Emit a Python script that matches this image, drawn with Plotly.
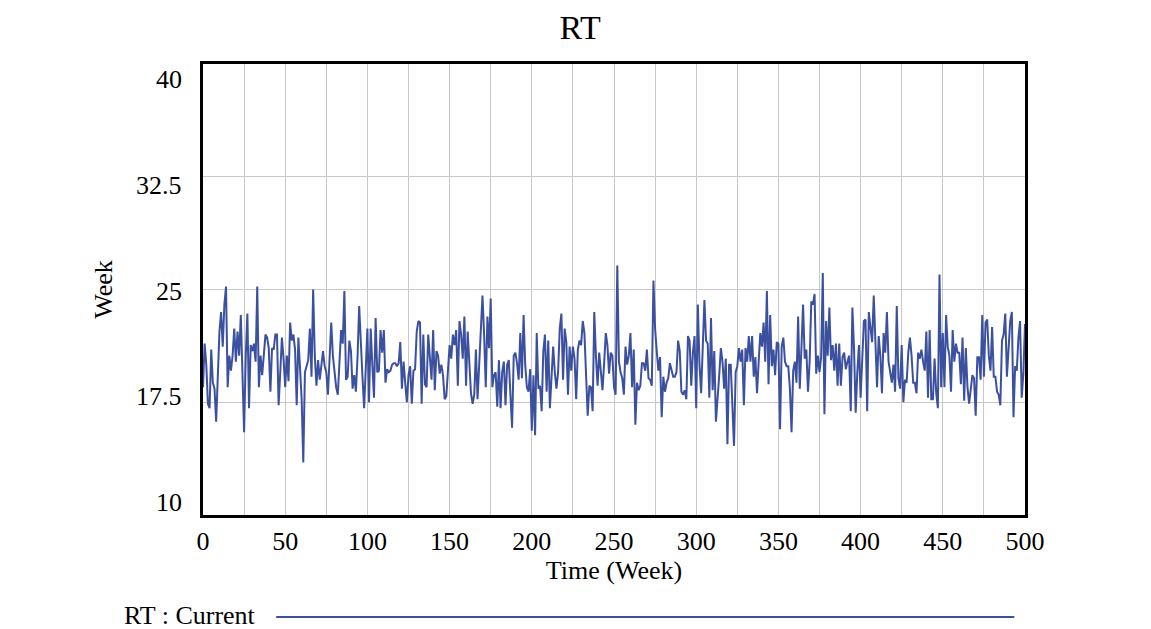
import plotly.graph_objects as go

# Simulation time (weeks 0..500, one value per week)
weeks = list(range(0, 501))

# RT : Current (weeks 0..500)
rt_current = [
    18.5, 21.4, 20.0, 17.4, 17.1, 21.0, 18.8, 18.4, 16.2, 19.5,
    22.2, 23.5, 21.2, 24.0, 25.2, 18.5, 20.6, 19.6, 20.6, 22.4,
    20.2, 22.2, 20.6, 23.3, 18.4, 15.5, 20.6, 23.4, 17.1, 21.3,
    20.9, 21.4, 20.2, 25.2, 18.5, 20.6, 19.3, 21.0, 22.0, 21.8,
    21.1, 18.2, 21.1, 21.0, 22.0, 22.0, 17.3, 19.5, 21.8, 20.4,
    18.5, 20.6, 18.9, 22.8, 21.6, 22.0, 21.0, 17.3, 21.8, 19.8,
    17.7, 13.5, 19.5, 19.9, 20.3, 22.4, 19.2, 25.0, 20.6, 18.6,
    20.3, 19.0, 19.9, 20.9, 19.9, 19.5, 18.0, 20.6, 22.8, 20.6,
    19.5, 18.5, 18.0, 20.6, 22.3, 21.4, 24.9, 19.0, 19.2, 21.6,
    20.9, 18.4, 19.3, 18.2, 20.5, 23.9, 20.9, 19.2, 17.1, 19.7,
    22.4, 17.5, 22.4, 20.0, 17.8, 23.1, 19.5, 19.6, 22.3, 20.8,
    22.3, 18.8, 19.7, 19.5, 19.6, 20.0, 20.1, 20.1, 19.9, 20.1,
    21.5, 18.4, 20.2, 18.8, 17.5, 19.3, 19.9, 17.4, 19.6, 19.7,
    22.2, 22.9, 22.8, 17.4, 22.0, 18.7, 18.5, 22.0, 20.6, 19.0,
    22.3, 18.3, 20.9, 20.6, 19.4, 20.0, 19.3, 17.7, 17.9, 19.5,
    21.3, 20.4, 22.0, 21.3, 22.3, 18.6, 22.9, 22.0, 20.4, 23.2,
    18.6, 22.2, 20.0, 18.1, 17.4, 18.0, 21.0, 17.7, 20.0, 22.4,
    24.6, 22.0, 18.5, 23.2, 21.1, 24.4, 18.5, 19.3, 19.5, 17.2,
    20.3, 17.1, 19.5, 20.2, 17.3, 20.0, 20.3, 18.0, 15.8, 20.6,
    20.8, 20.1, 19.0, 22.1, 19.1, 23.3, 20.0, 18.5, 18.2, 19.7,
    15.6, 19.3, 15.3, 22.1, 18.4, 18.6, 16.9, 20.9, 22.0, 18.2,
    21.6, 17.1, 19.3, 21.2, 19.5, 18.4, 19.5, 22.4, 23.4, 19.0,
    22.4, 21.5, 18.0, 21.2, 19.6, 21.2, 20.4, 17.7, 21.0, 21.6,
    21.3, 22.9, 22.1, 19.5, 16.6, 18.6, 18.5, 16.9, 23.5, 20.6,
    18.6, 20.8, 19.4, 18.3, 20.1, 22.1, 21.3, 19.4, 20.8, 20.6,
    18.5, 18.0, 26.6, 20.2, 19.5, 19.1, 18.0, 21.2, 20.0, 20.6,
    22.1, 18.5, 21.0, 16.0, 18.8, 18.3, 18.6, 20.1, 20.1, 19.6,
    21.0, 19.1, 19.0, 18.6, 25.6, 22.4, 20.9, 19.6, 20.5, 16.5,
    19.2, 18.2, 18.8, 19.1, 20.1, 19.6, 19.2, 19.2, 19.5, 21.6,
    20.9, 18.2, 18.0, 18.3, 17.7, 21.9, 21.6, 18.6, 20.8, 21.9,
    17.1, 24.0, 20.0, 18.1, 22.0, 24.3, 21.6, 21.4, 17.8, 23.1,
    18.3, 20.9, 16.2, 17.5, 19.3, 21.1, 20.2, 18.4, 20.4, 14.7,
    20.0, 20.0, 17.0, 14.6, 19.5, 19.9, 21.1, 20.2, 21.0, 17.3,
    21.1, 20.2, 21.9, 20.2, 21.9, 19.2, 20.5, 18.1, 20.2, 22.1,
    21.2, 22.8, 20.2, 24.9, 18.7, 23.3, 19.9, 21.0, 19.3, 21.5,
    21.4, 15.7, 21.2, 21.8, 20.2, 19.9, 19.9, 18.4, 15.5, 19.6,
    20.2, 18.8, 23.2, 18.4, 21.1, 24.0, 20.4, 21.0, 18.2, 20.2,
    24.2, 24.0, 24.7, 19.4, 20.6, 19.5, 20.5, 26.1, 16.7, 22.9,
    20.6, 23.8, 20.3, 21.3, 19.6, 21.4, 18.6, 21.4, 18.6, 20.5,
    20.8, 19.7, 20.2, 20.6, 16.9, 23.8, 21.1, 16.8, 19.5, 21.3,
    17.8, 20.5, 22.9, 23.0, 16.9, 23.5, 22.5, 21.5, 24.6, 21.3,
    18.5, 21.9, 20.6, 18.1, 22.1, 20.8, 23.5, 20.2, 19.6, 18.8,
    20.0, 18.2, 23.9, 19.1, 18.4, 21.3, 17.5, 19.0, 18.8, 20.8,
    21.8, 20.6, 18.8, 18.8, 18.1, 20.8, 20.4, 21.0, 20.2, 19.6,
    22.2, 17.8, 22.3, 17.7, 17.7, 20.4, 18.1, 17.1, 26.0, 18.5,
    22.1, 18.5, 23.3, 21.2, 20.6, 18.2, 22.3, 20.2, 21.4, 20.8,
    20.8, 18.7, 21.8, 17.6, 21.1, 18.5, 17.4, 18.4, 19.3, 19.1,
    16.6, 20.5, 20.5, 19.0, 23.3, 19.2, 22.8, 23.0, 20.6, 19.6,
    22.5, 19.2, 19.2, 18.2, 18.0, 17.3, 21.6, 22.0, 23.4, 19.2,
    21.5, 22.9, 23.5, 16.5, 19.9, 19.6, 21.8, 22.9, 17.8, 19.4,
    22.7,
]

x_ticks = [0, 50, 100, 150, 200, 250, 300, 350, 400, 450, 500]
y_ticks = [10, 17.5, 25, 32.5, 40]
y_tick_text = ["10", "17.5", "25", "32.5", "40"]

series_name = "RT : Current"
line_color = "#3c50a0"
serif = "Liberation Serif, Times New Roman, serif"
grid_color = "#c8c8c8"

Y_MIN, Y_MAX = 10, 40
# The reference spreads its y labels over a slightly narrower band than the
# frame (the end labels sit inside the frame); label band in axis units:
LABEL_LO, LABEL_HI = 10.83, 38.97

fig = go.Figure()
fig.add_trace(go.Scatter(
    x=weeks, y=rt_current, mode="lines", name=series_name,
    line=dict(color=line_color, width=2), showlegend=False,
))

fig.update_layout(
    width=1151, height=629,
    margin=dict(l=203, r=126, t=64, b=114),
    paper_bgcolor="white", plot_bgcolor="white",
    font=dict(family=serif, size=26, color="black"),
    title=dict(text="RT", x=0.504, xanchor="center", y=0.957, yanchor="middle",
               xref="container", font=dict(family=serif, size=34, color="black")),
    xaxis=dict(
        range=[0, 500], tickvals=x_ticks, ticks="", showgrid=True,
        gridcolor=grid_color, gridwidth=1,
        minor=dict(dtick=25, tick0=0, showgrid=True, gridcolor=grid_color, gridwidth=1),
        showline=True, linecolor="black", linewidth=3, mirror=True,
        zeroline=False, ticklabelstandoff=1,
        tickfont=dict(family=serif, size=26),
        title=dict(text="Time (Week)", font=dict(family=serif, size=26), standoff=2),
    ),
    yaxis=dict(
        range=[Y_MIN, Y_MAX], tickvals=y_ticks, ticks="", showticklabels=False,
        showgrid=True, gridcolor=grid_color, gridwidth=1,
        showline=True, linecolor="black", linewidth=3, mirror=True,
        zeroline=False,
        title=dict(text="Week", font=dict(family=serif, size=26), standoff=80),
    ),
)

# Y tick labels, placed the way the reference places them
for v, label in zip(y_ticks, y_tick_text):
    pos = LABEL_LO + (v - Y_MIN) * (LABEL_HI - LABEL_LO) / (Y_MAX - Y_MIN)
    fig.add_annotation(
        text=label, xref="paper", yref="y", x=-0.0235, y=pos,
        xanchor="right", yanchor="middle", showarrow=False,
        font=dict(family=serif, size=26, color="black"),
    )

# Legend row beneath the chart (text + long sample line)
fig.add_annotation(
    text=series_name, xref="paper", yref="paper", x=-0.099, y=-0.222,
    xanchor="left", yanchor="middle", showarrow=False,
    font=dict(family=serif, size=26, color="black"),
)
fig.add_shape(
    type="line", xref="paper", yref="paper", x0=0.089, x1=0.987,
    y0=-0.226, y1=-0.226, line=dict(color=line_color, width=2),
)

fig.write_html("out.html")
